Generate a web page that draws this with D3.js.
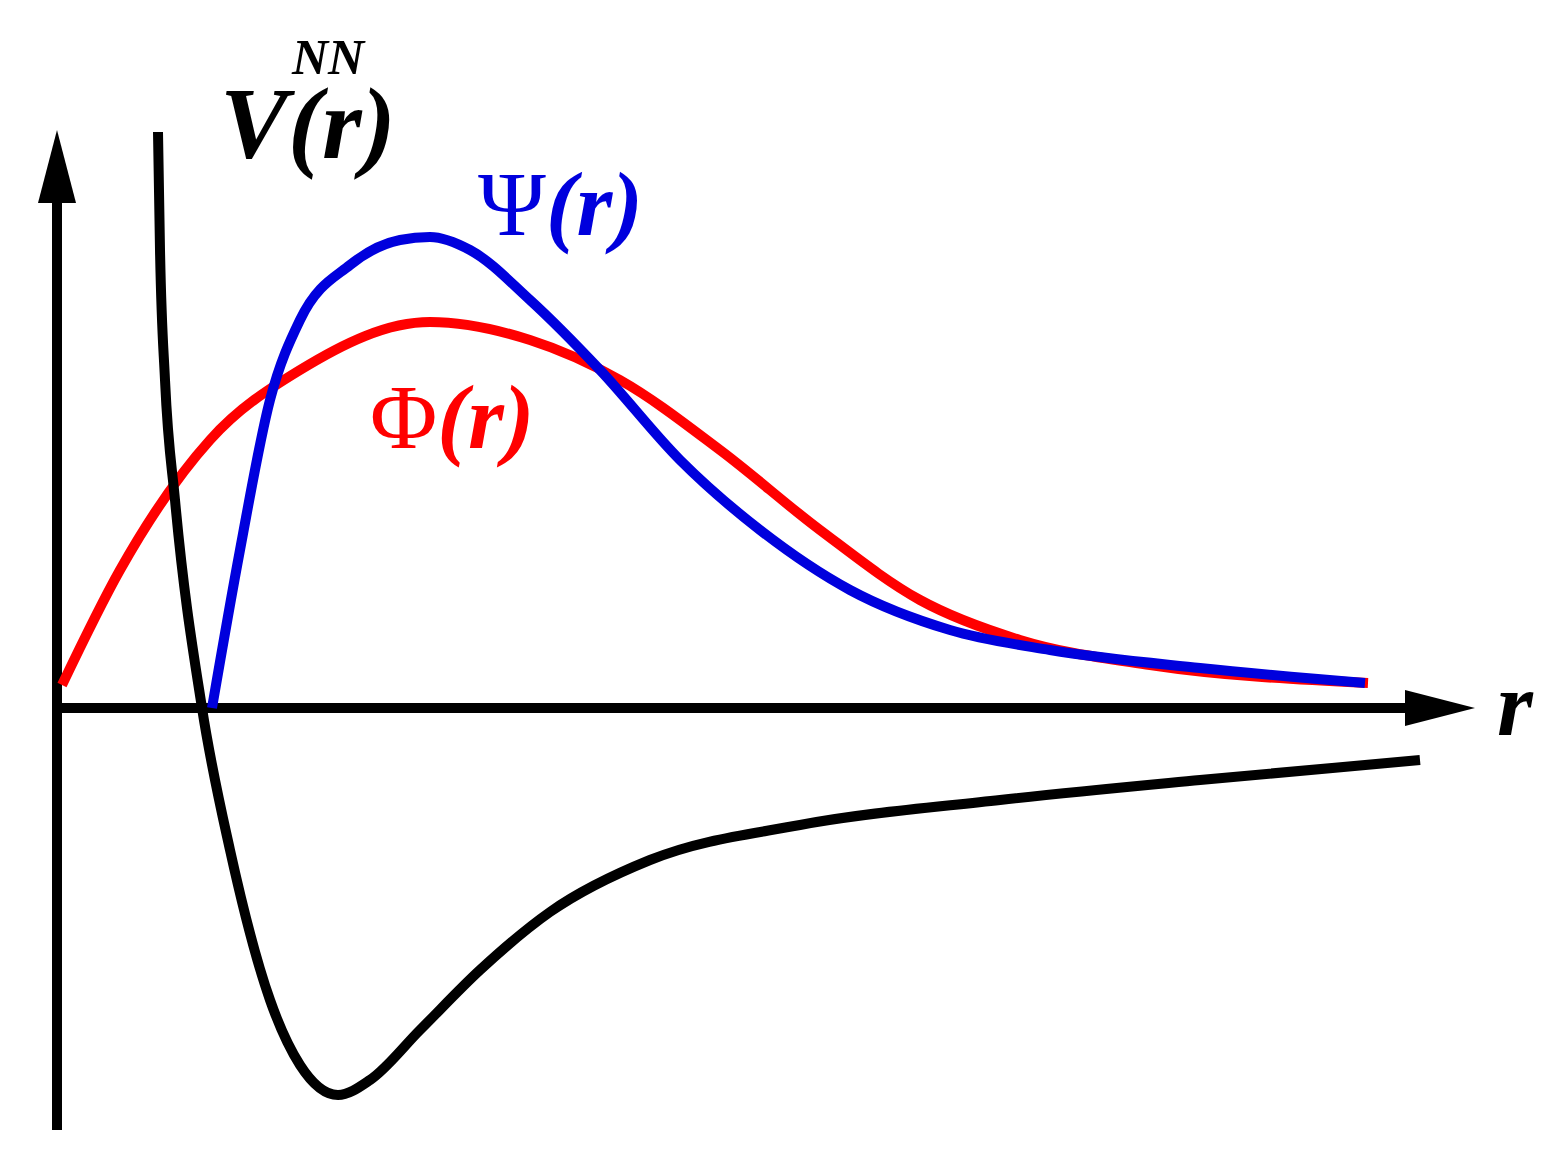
<!DOCTYPE html><html><head><meta charset="utf-8">
<script src="https://cdn.jsdelivr.net/npm/d3@7"></script>
<style>body{margin:0;background:#fff}</style></head><body>
<svg id="c" width="1567" height="1161"></svg>
<script>
const potentialX=[96,98,103,113,140,168,208,238,276,308,358,418,488,588,738,938,1138,1358];
const potentialY=[576,458,328,208,0,-142,-292,-357,-387,-372,-322,-262,-204,-152,-117,-92,-72,-52];
const psiX=[150,178,208,238,288,338,368,408,468,538,618,698,788,888,988,1138,1303];
const psiY=[0,158,308,388,443,468,471,458,408,338,248,178,118,78,58,40,25];
const phiX=[0,58,148,238,368,468,558,658,758,858,958,1088,1306];
const phiY=[23,138,268,338,386,368,328,258,178,108,68,43,25];

const svg=d3.select("#c");
const x=d3.scaleLinear().domain([0,1410]).range([62,1472]);
const y=d3.scaleLinear().domain([-420,600]).range([1128,108]);
const line=d3.line().x(d=>x(d[0])).y(d=>y(d[1])).curve(d3.curveMonotoneX);
const pts=(a,b)=>a.map((v,i)=>[v,b[i]]);

svg.append("line").attr("x1",57).attr("x2",57).attr("y1",1130).attr("y2",190).attr("stroke","#000").attr("stroke-width",10);
svg.append("path").attr("d","M38,203 L57,130 L76,203 Z").attr("fill","#000");
svg.append("line").attr("x1",53).attr("x2",1420).attr("y1",y(0)).attr("y2",y(0)).attr("stroke","#000").attr("stroke-width",10);
svg.append("path").attr("d",`M1405,${y(0)-18} L1475,${y(0)} L1405,${y(0)+18} Z`).attr("fill","#000");

svg.append("path").attr("d",line(pts(phiX,phiY))).attr("fill","none").attr("stroke","#ff0000").attr("stroke-width",10);
svg.append("path").attr("d",line(pts(psiX,psiY))).attr("fill","none").attr("stroke","#0000dd").attr("stroke-width",10);
svg.append("path").attr("d",line(pts(potentialX,potentialY))).attr("fill","none").attr("stroke","#000").attr("stroke-width",10);

const f='"Liberation Serif","DejaVu Serif",serif';
function lab(t,xx,yy,s,c){svg.append("text").attr("x",xx).attr("y",yy).attr("font-family",f).attr("font-size",s).attr("font-weight","bold").attr("font-style","italic").attr("fill",c).text(t);}
lab("V(r)",220,158,102,"#000");
lab("NN",292,74,50,"#000");
svg.append("text").attr("x",478).attr("y",235).attr("font-family",f).attr("font-size",92).attr("fill","#0000dd")
 .html('Ψ<tspan font-style="italic" font-weight="bold">(r)</tspan>');
svg.append("text").attr("x",370).attr("y",448).attr("font-family",f).attr("font-size",92).attr("fill","#ff0000")
 .html('Φ<tspan font-style="italic" font-weight="bold">(r)</tspan>');
lab("r",1497,735,92,"#000");
</script></body></html>
